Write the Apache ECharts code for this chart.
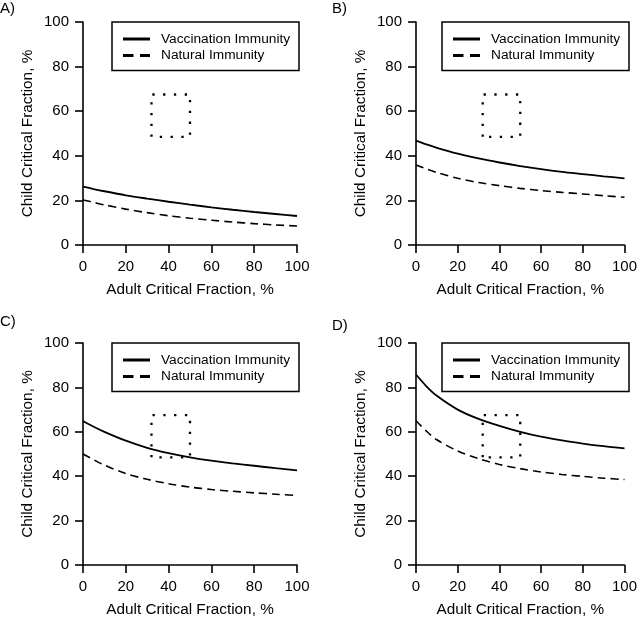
<!DOCTYPE html>
<html>
<head>
<meta charset="utf-8">
<script src="https://cdn.jsdelivr.net/npm/echarts@6/dist/echarts.min.js"></script>
<style>
html,body{margin:0;padding:0;background:#fff;}
#chart{width:640px;height:618px;}
</style>
</head>
<body>
<div id="chart"></div>
<script>
// Data
var adultX = [0, 5, 10, 20, 30, 40, 50, 60, 70, 80, 90, 100];

var vaccA = [26.2, 25.1, 24.1, 22.3, 20.8, 19.4, 18.1, 16.9, 15.8, 14.8, 13.9, 13.0];
var natA  = [20.2, 19.1, 18.0, 16.1, 14.5, 13.1, 12.0, 11.1, 10.3, 9.6, 9.0, 8.5];

var vaccB = [46.8, 45.1, 43.6, 41.0, 38.8, 37.0, 35.4, 34.0, 32.8, 31.8, 30.8, 29.9];
var natB  = [35.9, 34.1, 32.5, 29.9, 28.0, 26.6, 25.4, 24.4, 23.6, 22.9, 22.1, 21.4];

var vaccC = [64.9, 62.3, 60.0, 56.0, 52.8, 50.4, 48.5, 47.0, 45.8, 44.7, 43.6, 42.6];
var natC  = [50.0, 47.4, 45.0, 41.2, 38.6, 36.6, 35.1, 34.0, 33.2, 32.5, 31.9, 31.3];

var vaccD = [85.8, 80.5, 76.2, 70.0, 65.8, 62.7, 60.0, 57.8, 56.1, 54.7, 53.5, 52.5];
var natD  = [65.0, 60.3, 56.4, 51.4, 47.9, 45.3, 43.4, 41.9, 40.8, 39.9, 39.1, 38.5];

// Dotted reference box (adult %, child %)
var boxX = [32, 32, 50, 50, 32];
var boxY = [48.5, 67.5, 67.5, 48.5, 48.5];

var panelLabels = ['A)', 'B)', 'C)', 'D)'];
var seriesNames = ['Vaccination Immunity', 'Natural Immunity'];
var xTicks = [0, 20, 40, 60, 80, 100];
var yTicks = [0, 20, 40, 60, 80, 100];

var panels = [
  {vacc: vaccA, nat: natA},
  {vacc: vaccB, nat: natB},
  {vacc: vaccC, nat: natC},
  {vacc: vaccD, nat: natD}
];

function pairs(xs, ys) {
  return xs.map(function (x, i) { return [x, ys[i]]; });
}

var FONT = '"Liberation Sans", Arial, sans-serif';
var grids = [
  {left: 83, top: 22, width: 214, height: 223},
  {left: 416, top: 22, width: 212, height: 223},
  {left: 83, top: 343, width: 214, height: 224},
  {left: 416, top: 343, width: 212, height: 224}
];
var legendPos = [
  {x: 112, y: 22},
  {x: 442, y: 22},
  {x: 112, y: 343},
  {x: 442, y: 343}
];
var labelPos = [
  {left: 0, top: 1},
  {left: 332, top: 1},
  {left: 0, top: 314},
  {left: 332, top: 318}
];

var xAxes = [], yAxes = [], series = [], graphics = [];

grids.forEach(function (g, i) {
  xAxes.push({
    type: 'value', gridIndex: i, min: 0, max: 100, interval: 20,
    name: 'Adult Critical Fraction, %', nameLocation: 'middle', nameGap: 37,
    nameTextStyle: {fontFamily: FONT, fontSize: 15.3, color: '#000'},
    axisLine: {show: true, lineStyle: {color: '#000', width: 1.6}},
    axisTick: {show: true, length: 8, inside: false, lineStyle: {color: '#000', width: 1.6}},
    axisLabel: {fontFamily: FONT, fontSize: 15, color: '#000', margin: 14,
      formatter: function (v) { return xTicks.indexOf(v) >= 0 ? String(v) : ''; }},
    splitLine: {show: false}
  });
  yAxes.push({
    type: 'value', gridIndex: i, min: 0, max: 100, interval: 20,
    name: 'Child Critical Fraction, %', nameLocation: 'middle', nameGap: 48,
    nameTextStyle: {fontFamily: FONT, fontSize: 15.3, color: '#000'},
    axisLine: {show: true, lineStyle: {color: '#000', width: 1.6}},
    axisTick: {show: true, length: 8, inside: false, lineStyle: {color: '#000', width: 1.6}},
    axisLabel: {fontFamily: FONT, fontSize: 15, color: '#000', margin: 14,
      formatter: function (v) { return yTicks.indexOf(v) >= 0 ? String(v) : ''; }},
    splitLine: {show: false}
  });

  var p = panels[i];
  series.push({
    name: seriesNames[0], type: 'line', xAxisIndex: i, yAxisIndex: i,
    data: pairs(adultX, p.vacc), smooth: 0.3, symbol: 'none', silent: true,
    lineStyle: {color: '#000', width: 1.8, type: 'solid'}, itemStyle: {color: '#000'}
  });
  series.push({
    name: seriesNames[1], type: 'line', xAxisIndex: i, yAxisIndex: i,
    data: pairs(adultX, p.nat), smooth: 0.3, symbol: 'none', silent: true,
    lineStyle: {color: '#000', width: 1.6, type: [8, 5]}, itemStyle: {color: '#000'}
  });
  series.push({
    name: 'box', type: 'line', xAxisIndex: i, yAxisIndex: i,
    data: pairs(boxX, boxY), symbol: 'none', silent: true,
    lineStyle: {color: '#000', width: 2.3, type: [2.3, 8.5], cap: 'butt'}
  });

  // Legend box drawn with graphic elements (text kept as real text)
  var lx = legendPos[i].x, ly = legendPos[i].y;
  graphics.push({
    type: 'group', x: lx, y: ly, silent: true,
    children: [
      {type: 'rect', shape: {x: 0, y: 0, width: 187, height: 48.5},
        style: {fill: '#fff', stroke: '#000', lineWidth: 1.5}},
      {type: 'line', shape: {x1: 11, y1: 17, x2: 38, y2: 17},
        style: {stroke: '#000', lineWidth: 3}},
      {type: 'line', shape: {x1: 11, y1: 33.5, x2: 38, y2: 33.5},
        style: {stroke: '#000', lineWidth: 3, lineDash: [10.5, 6.5]}},
      {type: 'text', x: 49, y: 17,
        style: {text: seriesNames[0], fontFamily: FONT, fontSize: 13.7, fill: '#000', verticalAlign: 'middle'}},
      {type: 'text', x: 49, y: 33.5,
        style: {text: seriesNames[1], fontFamily: FONT, fontSize: 13.7, fill: '#000', verticalAlign: 'middle'}}
    ]
  });

  graphics.push({
    type: 'text', left: labelPos[i].left, top: labelPos[i].top,
    style: {text: panelLabels[i], fontFamily: FONT, fontSize: 15, fill: '#000'}
  });
});

var chart = echarts.init(document.getElementById('chart'), null, {renderer: 'canvas'});
chart.setOption({
  animation: false,
  backgroundColor: '#fff',
  grid: grids,
  xAxis: xAxes,
  yAxis: yAxes,
  series: series,
  graphic: graphics
});
</script>
</body>
</html>
